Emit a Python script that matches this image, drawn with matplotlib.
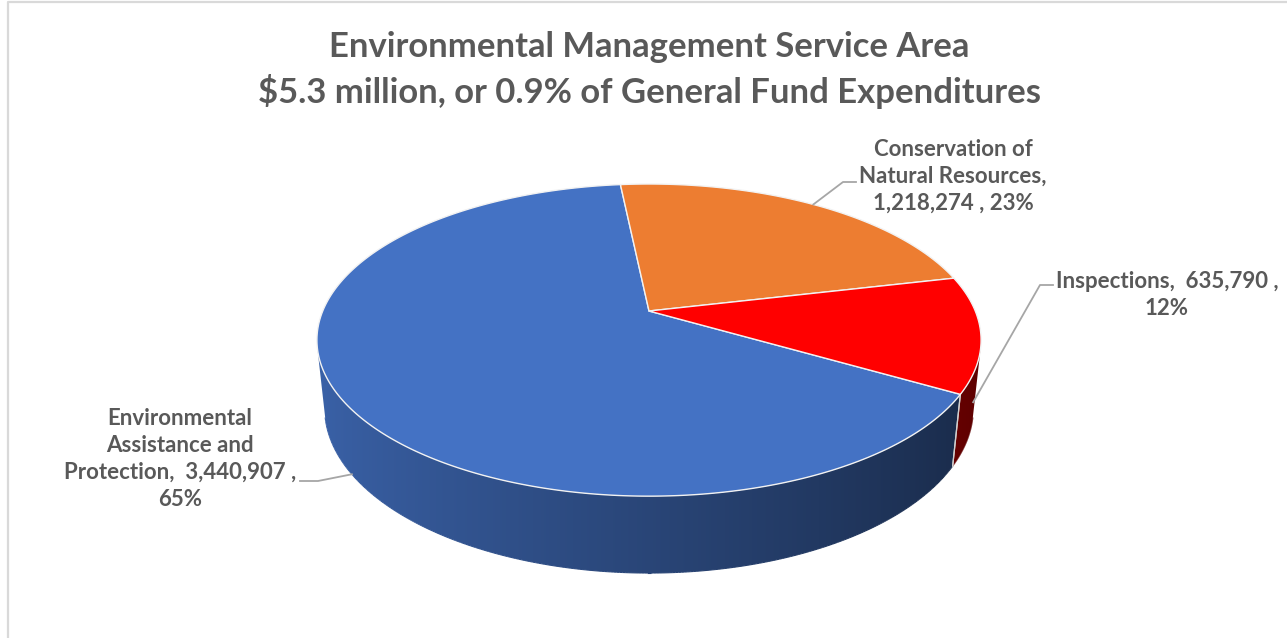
import numpy as np
import matplotlib
matplotlib.use("Agg")
import matplotlib.pyplot as plt
from matplotlib.collections import LineCollection
from matplotlib.patches import Polygon

# ---------------- data ----------------
categories = ["Environmental\nAssistance and\nProtection",
              "Conservation of\nNatural Resources",
              "Inspections"]
values = [3440907, 1218274, 635790]
top_colors = ["#4472C4", "#ED7D31", "#FF0000"]
title_lines = ["Environmental Management Service Area",
               "\\$5.3 million, or 0.9% of General Fund Expenditures"]

# label separators (Excel's wrapping)
sep_name = [",  ", ",\n", ",  "]
sep_pct = [" ,\n", " , ", " ,\n"]

# ---------------- 3D projection setup ----------------
W, Hpx = 1287, 638
PHI = np.radians(27.5)
S, C = np.sin(PHI), np.cos(PHI)
DIST = 4.76
FOC = 1553.0
CX, CY = 649.0, 311.0
THICK = 0.237
START = 120.1  # clockwise from 12 o'clock, first slice


def proj(t_deg, r, z):
    t = np.radians(t_deg)
    x = r * np.sin(t)
    y = r * np.cos(t)
    depth = DIST + y * C - z * S
    sx = CX + FOC * x / depth
    sy = CY - FOC * (y * S + z * C) / depth
    return sx, sy


def to_rgb(h):
    return np.array(matplotlib.colors.to_rgb(h))


def shade(t_deg):
    return 0.61 - 0.25 * np.sin(np.radians(t_deg))


fig = plt.figure(figsize=(W / 100, Hpx / 100), dpi=100)
ax = fig.add_axes([0, 0, 1, 1])

# chart frame (light gray, left & top visible)
ax.plot([8, 8, W + 5], [Hpx + 5, 1.5, 1.5], color="#D9D9D9", lw=1.6,
        solid_capstyle="butt", zorder=1)

total = float(sum(values))
fracs = [v / total for v in values]
bounds = [START]
for f in fracs:
    bounds.append(bounds[-1] + 360.0 * f)

# visible (front-facing) wall range
t_sil = np.degrees(np.arccos(-1.0 / (DIST * C)))
vis_lo, vis_hi = t_sil, 360.0 - t_sil

# ---------- walls (smooth gradient via clipped images) ----------
for i, col in enumerate(top_colors):
    a0, a1 = bounds[i], bounds[i + 1]
    base = to_rgb(col)
    for shift in (-360.0, 0.0, 360.0):
        lo = max(a0 + shift, vis_lo)
        hi = min(a1 + shift, vis_hi)
        if hi <= lo:
            continue
        ts = np.linspace(lo, hi, 300)
        tx, ty = proj(ts, 1, 0)
        bx, by = proj(ts[::-1], 1, -THICK)
        pts = np.column_stack([np.r_[tx, bx], np.r_[ty, by]])
        clip = Polygon(pts, closed=True, facecolor="none", edgecolor="none")
        ax.add_patch(clip)
        xmin, xmax = pts[:, 0].min() - 2, pts[:, 0].max() + 2
        ymin, ymax = pts[:, 1].min() - 2, pts[:, 1].max() + 2
        xm, _ = proj(ts, 1, -THICK / 2)
        ncol = max(4, int(xmax - xmin) * 2)
        xg = np.linspace(xmin, xmax, ncol)
        order = np.argsort(xm)
        tg = np.interp(xg, xm[order], ts[order])
        img = np.clip(base[None, :] * shade(tg)[:, None], 0, 1)[None, :, :]
        im = ax.imshow(img, extent=(xmin, xmax, ymax, ymin), aspect="auto",
                       interpolation="bilinear", zorder=2)
        im.set_clip_path(clip)
        # antialiased outline in local colours
        segs, cols = [], []
        for j in range(len(ts) - 1):
            segs.append([(bx[::-1][j], by[::-1][j]),
                         (bx[::-1][j + 1], by[::-1][j + 1])])
            cols.append(np.clip(base * shade(ts[j]), 0, 1))
        ax.add_collection(LineCollection(segs, colors=cols, linewidths=0.8,
                                         zorder=2.5))

# seams between slices on the wall
for b in bounds:
    cand = b % 360
    if vis_lo < cand < vis_hi:
        x0, y0 = proj(cand, 1, 0)
        x1, y1 = proj(cand, 1, -THICK)
        ax.plot([x0, x1], [y0, y1], color="#D0D0D0", lw=0.9, zorder=3)

# ---------- top faces ----------
for i, col in enumerate(top_colors):
    a0, a1 = bounds[i], bounds[i + 1]
    ts = np.linspace(a0, a1, 400)
    xs, ys = proj(ts, 1, 0)
    cx, cy = proj(0, 0, 0)
    pts = np.column_stack([np.r_[cx, xs], np.r_[cy, ys]])
    ax.add_patch(Polygon(pts, closed=True, facecolor=col,
                         edgecolor="#F2F2F2", lw=1.0, zorder=4,
                         joinstyle="round"))

# ---------- labels ----------
text_color = "#595959"
FONT = ["Lato", "DejaVu Sans"]

label_pos = [(180, 459), (953, 176), (1167, 295)]
elbows = [[(318, 481), (300, 481)],
          [(843, 182), (856, 182)],
          [(1040, 285), (1053, 285)]]

for i, name in enumerate(categories):
    pct = f"{round(fracs[i] * 100):d}%"
    txt = f"{name}{sep_name[i]}{values[i]:,}{sep_pct[i]}{pct}"
    ax.text(label_pos[i][0], label_pos[i][1], txt, ha="center", va="center",
            multialignment="center", fontsize=16, fontweight="bold",
            color=text_color, family=FONT, linespacing=1.34, zorder=6)
    mid = 0.5 * (bounds[i] + bounds[i + 1])
    z = -THICK if np.cos(np.radians(mid)) < 0 else 0.0
    ax_, ay_ = proj(mid, 1, z)
    xs = [ax_] + [p[0] for p in elbows[i]]
    ys = [ay_] + [p[1] for p in elbows[i]]
    ax.plot(xs, ys, color="#A6A6A6", lw=1.3, zorder=5)

# ---------- title ----------
ax.text(649, 70, "\n".join(title_lines), ha="center", va="center",
        multialignment="center", fontsize=24.9, fontweight="bold",
        color=text_color, family=FONT, linespacing=1.35, zorder=6)

ax.set_xlim(0, W)
ax.set_ylim(Hpx, 0)
ax.axis("off")

fig.savefig("out.png", dpi=100, facecolor="white")
